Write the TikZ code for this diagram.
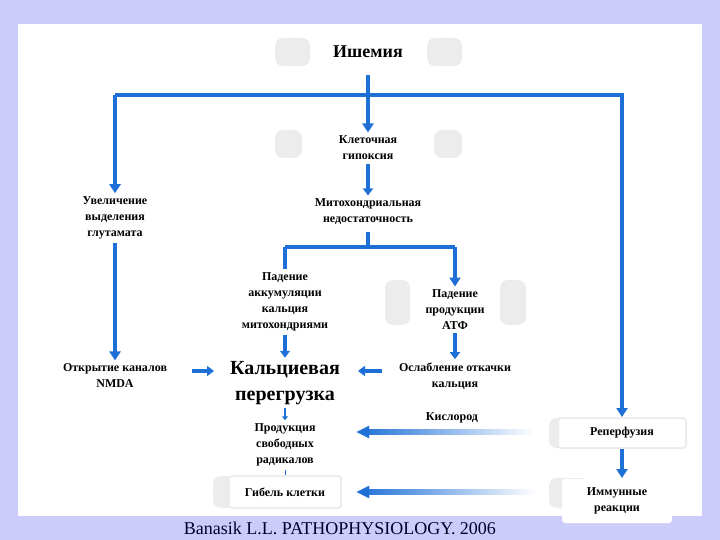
\documentclass[tikz,border=0pt]{standalone}
\usepackage{fontspec}
\setmainfont{Liberation Serif}
\usetikzlibrary{arrows.meta}
\definecolor{bg}{RGB}{204,204,250}
\definecolor{arr}{RGB}{30,112,215}
\definecolor{blob}{RGB}{236,236,236}
\tikzset{
 lbl/.style={font=\bfseries\fontsize{12}{16}\selectfont, align=center, text=black},
 big/.style={font=\bfseries\fontsize{20}{26}\selectfont, align=center},
 con/.style={draw=arr, line width=3.5pt},
 ar/.style={con, -{Triangle[width=11pt,length=9pt]}},
 sar/.style={con, -{Triangle[width=10pt,length=7pt]}},
 blobs/.style={fill=blob, rounded corners=8pt},
 wbox/.style={draw=blob, line width=2pt, fill=white, rounded corners=3pt}
}
\begin{document}
\begin{tikzpicture}[x=1pt,y=-1pt]
\fill[bg] (0,0) rectangle (720,540);
\fill[white] (18,24) rectangle (702,516);
\useasboundingbox (0,0) rectangle (720,540);
% blobs
\fill[blobs] (275,38) rectangle (310,66); \fill[blobs] (427,38) rectangle (462,66);
\fill[blobs] (275,130) rectangle (302,158); \fill[blobs] (434,130) rectangle (462,158);
\fill[blobs] (385,280) rectangle (410,325); \fill[blobs] (500,280) rectangle (526,325);
\fill[blobs] (213,476) rectangle (235,508);
\fill[blobs] (549,418) rectangle (590,448); \fill[blobs] (549,478) rectangle (590,508);
% nodes
\node[lbl, font=\bfseries\fontsize{18}{22}\selectfont] (ish) at (368,52) {Ишемия};
\node[lbl] (hyp) at (368,148) {Клеточная\\гипоксия};
\node[lbl] (mito) at (368,212) {Митохондриальная\\недостаточность};
\node[lbl] (glu) at (115,218) {Увеличение\\выделения\\глутамата};
\node[lbl] (acc) at (285,302) {Падение\\аккумуляции\\кальция\\митохондриями};
\node[lbl] (atp) at (455,310) {Падение\\продукции\\АТФ};
\node[lbl] (nmda) at (115,376) {Открытие каналов\\NMDA};
\node[big] (ca) at (285,383) {Кальциевая\\перегрузка};
\node[lbl] (pump) at (455,376) {Ослабление откачки\\кальция};
\node[lbl] (rad) at (285,445) {Продукция\\свободных\\радикалов};
\node[lbl] (oxy) at (452,418) {Кислород};
\node[wbox, lbl, minimum width=128pt, minimum height=30pt] (rep) at (622,433) {Реперфузия};
\node[wbox, lbl, minimum width=112pt, minimum height=32pt] (death) at (285,492) {Гибель клетки};
\node[wbox, lbl, draw=none, minimum width=110pt, minimum height=44pt] (imm) at (617,501) {Иммунные\\реакции};
\node[font=\fontsize{18}{20}\selectfont, text=black!85!blue] (ref) at (340,528) {Banasik L.L. PATHOPHYSIOLOGY. 2006};
% coordinates
\coordinate (b0) at (368,75);
\coordinate (bL) at (115,95); \coordinate (bM) at (368,95); \coordinate (bR) at (622,95);
\coordinate (m0) at (368,232);
\coordinate (mL) at (285,247); \coordinate (mM) at (368,247); \coordinate (mR) at (455,247);
\coordinate (nS) at (192,371); \coordinate (nE) at (214,371);
\coordinate (pS) at (382,371); \coordinate (pE) at (358,371);
\coordinate (oxyS) at (535,432); \coordinate (oxyE) at (357,432);
\coordinate (dS) at (535,492); \coordinate (dE) at (357,492);
% connectors
\draw[con] (b0) -- (bM);
\draw[ar] (bL) -- (bM) -- (hyp.north);
\draw[ar] (bM) -- (bR) -- (rep.north);
\draw[ar] (bL) -- (glu.north);
\draw[sar] (hyp.south) -- (mito.north);
\draw[con] (m0) -- (mM);
\draw[con] (mL) -- (mR);
\draw[con] (mL) -- (acc.north);
\draw[ar] (mR) -- (atp.north);
\draw[ar] (glu.south) -- (nmda.north);
\draw[sar] (acc.south) -- (ca.north);
\draw[sar] (atp.south) -- (pump.north);
\draw[sar] (nS) -- (nE);
\draw[sar] (pS) -- (pE);
\draw[con, -{Triangle[width=6pt,length=4pt]}, line width=1.5pt] (ca.south) -- (rad.north);
\draw[con, line width=1pt] (rad.south) -- (death.north);
\draw[ar] (rep.south) -- (imm.north -| rep.south);
\shade[left color=arr, right color=white] (oxyE) ++(8,-2.5) rectangle (oxyS|-{(0,434.5)});
\draw[arr, fill=arr] (oxyE) -- ++(12,-6) -- ++(0,12) -- cycle;
\shade[left color=arr, right color=white] (dE) ++(8,-2.5) rectangle (dS|-{(0,494.5)});
\draw[arr, fill=arr] (dE) -- ++(12,-6) -- ++(0,12) -- cycle;
\end{tikzpicture}
\end{document}
